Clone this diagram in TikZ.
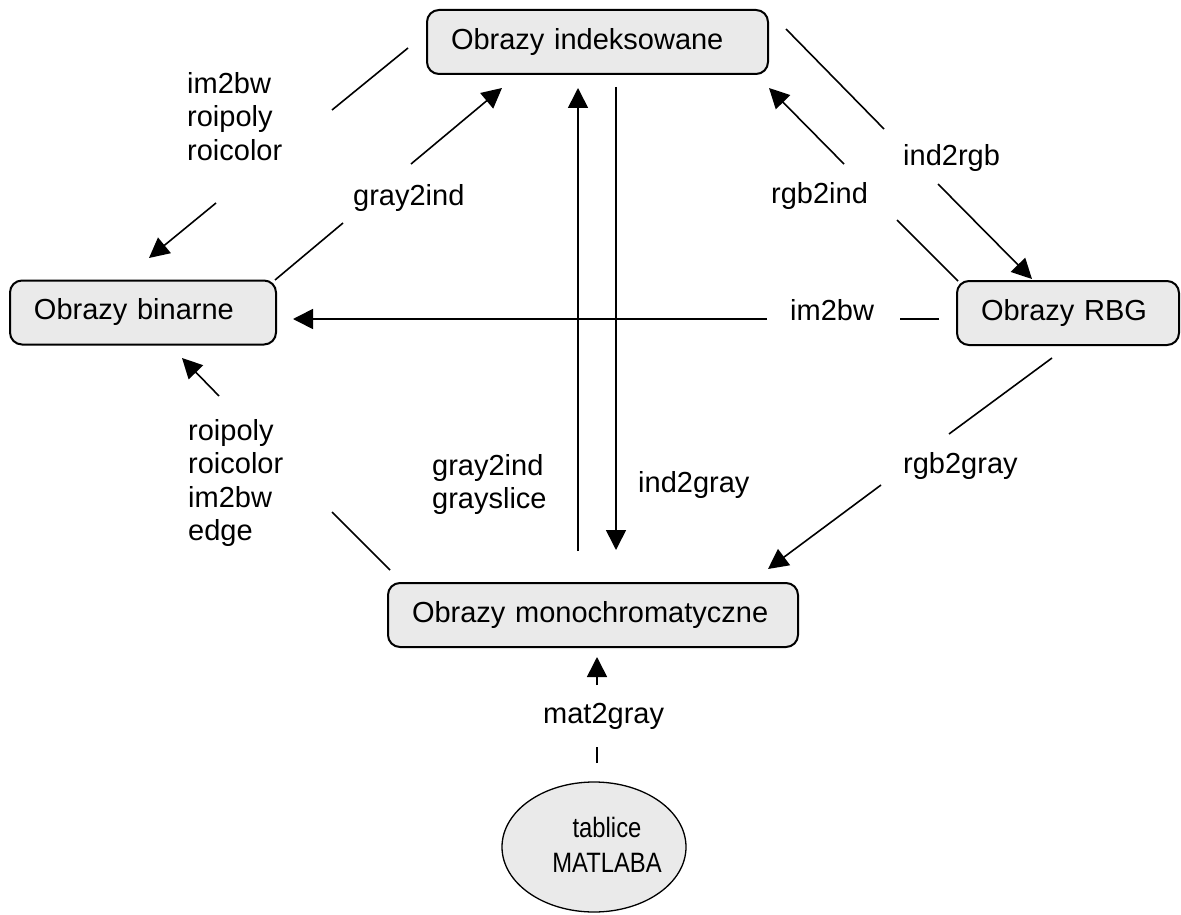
\documentclass[tikz,border=0pt]{standalone}
\usepackage{fontspec}
\setmainfont{Liberation Sans}
\newfontfamily\narrowfont[FakeStretch=0.85]{Liberation Sans}
\usetikzlibrary{arrows.meta,shapes.geometric}
\definecolor{boxgray}{HTML}{EAEAEA}
\begin{document}
\begin{tikzpicture}[x=1pt,y=-1pt,
  imgbox/.style={draw=black, line width=2pt, fill=boxgray, rounded corners=12pt,
    inner xsep=24pt, inner ysep=0pt, align=left, minimum height=64pt,
    font=\fontsize{29}{33.5}\selectfont},
  conn/.style={line width=1.6pt, draw=black},
  arr/.style={conn, -{Triangle[length=20pt,width=20pt]}},
  lbl/.style={inner sep=0pt, align=left, font=\fontsize{29}{33.5}\selectfont}]
\useasboundingbox (0,0) rectangle (1181,915);

% image-type boxes
\node[imgbox, text width=293pt] (ind) at (597.5,42) {Obrazy indeksowane};
\node[imgbox, text width=218pt] (bin) at (143,312.5) {Obrazy binarne};
\node[imgbox, text width=174pt] (rgb) at (1068,313) {Obrazy RBG};
\node[imgbox, text width=362pt] (mono) at (593,615) {Obrazy monochromatyczne};
\node[ellipse, draw=black, line width=1.3pt, fill=boxgray, minimum width=184pt,
  minimum height=130pt, inner sep=0pt] (tab) at (594,847) {};
\node[inner sep=0pt, align=center, font=\narrowfont\fontsize{28}{35}\selectfont]
  (tabtext) at (607,844.5) {tablice\\MATLABA};

% connector end points
\coordinate (a1) at (408,48);  \coordinate (a2) at (332,110);
\coordinate (a3) at (216,203); \coordinate (a4) at (149,258);
\coordinate (b1) at (275,280); \coordinate (b2) at (343,223);
\coordinate (b3) at (411,164); \coordinate (b4) at (502,88);
\coordinate (c1) at (786,29);  \coordinate (c2) at (884,129);
\coordinate (c3) at (938,184); \coordinate (c4) at (1032,279);
\coordinate (d1) at (958,281); \coordinate (d2) at (897,220);
\coordinate (d3) at (844,164); \coordinate (d4) at (769,88);
\coordinate (e1) at (939,319); \coordinate (e2) at (900,319);
\coordinate (e3) at (767,319); \coordinate (e4) at (293,319);
\coordinate (f1) at (616,87);  \coordinate (f2) at (616,550);
\coordinate (g1) at (578,551); \coordinate (g2) at (578,88);
\coordinate (h1) at (1052,358); \coordinate (h2) at (949,434);
\coordinate (h3) at (881,485);  \coordinate (h4) at (768,569);
\coordinate (k1) at (390,570); \coordinate (k2) at (332,512);
\coordinate (k3) at (219,396); \coordinate (k4) at (182,358);
\coordinate (m1) at (597,763); \coordinate (m2) at (597,747);
\coordinate (m3) at (597,685); \coordinate (m4) at (597,657);

% connectors
\draw[conn] (a1) -- (a2); \draw[arr] (a3) -- (a4);
\draw[conn] (b1) -- (b2); \draw[arr] (b3) -- (b4);
\draw[conn] (c1) -- (c2); \draw[arr] (c3) -- (c4);
\draw[conn] (d1) -- (d2); \draw[arr] (d3) -- (d4);
\draw[conn] (e1) -- (e2); \draw[arr] (e3) -- (e4);
\draw[arr] (f1) -- (f2);
\draw[arr] (g1) -- (g2);
\draw[conn] (h1) -- (h2); \draw[arr] (h3) -- (h4);
\draw[conn] (k1) -- (k2); \draw[arr] (k3) -- (k4);
\draw[conn] (m1) -- (m2); \draw[arr] (m3) -- (m4);

% labels
\node[lbl, anchor=north west] (l1) at (187,72.2) {im2bw\\roipoly\\roicolor};
\node[lbl, anchor=base west] (l2) at (353,205) {gray2ind};
\node[lbl, anchor=base west] (l3) at (903,166) {ind2rgb};
\node[lbl, anchor=base west] (l4) at (771,203) {rgb2ind};
\node[lbl, anchor=base west] (l5) at (790,320) {im2bw};
\node[lbl, anchor=base west] (l6) at (903,473) {rgb2gray};
\node[lbl, anchor=base west] (l7) at (638,492) {ind2gray};
\node[lbl, anchor=north west] (l8) at (432,454.2) {gray2ind\\grayslice};
\node[lbl, anchor=north west] (l9) at (188,419.2) {roipoly\\roicolor\\im2bw\\edge};
\node[lbl, anchor=base west] (l10) at (543,723) {mat2gray};
\end{tikzpicture}
\end{document}
